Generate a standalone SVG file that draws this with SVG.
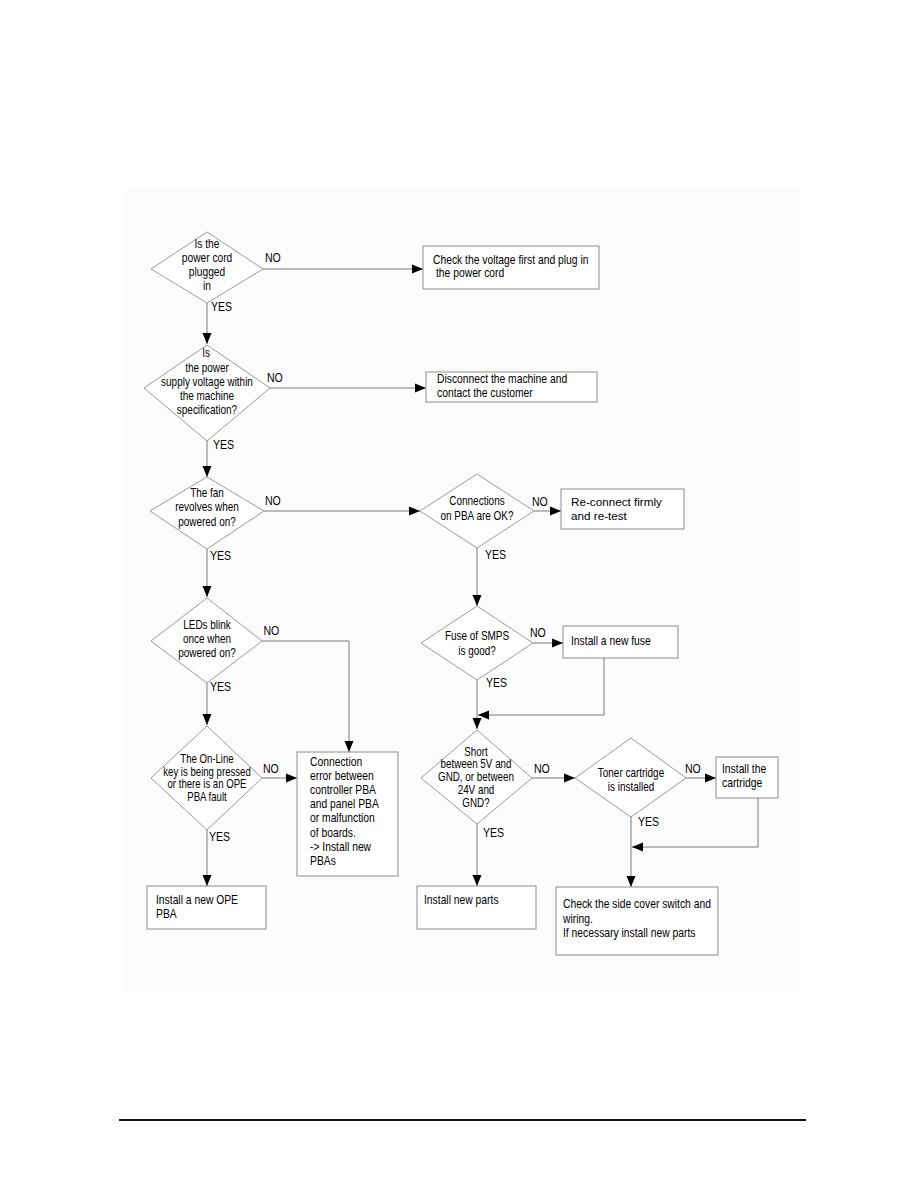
<svg xmlns="http://www.w3.org/2000/svg" width="918" height="1188" viewBox="0 0 918 1188">
<style>
text{font-family:"Liberation Sans",Arial,sans-serif;font-size:12px;fill:#000}
.d text{text-anchor:middle}
.reg{font-size:11.7px}
.d polygon{fill:#fff;stroke:#9a9a9a;stroke-width:1}
.b rect{fill:#fff;stroke:#8c8c8c;stroke-width:1}
#connectors path{fill:none;stroke:#7a7a7a;stroke-width:1;marker-end:url(#arr)}
</style>
<defs>
<marker id="arr" markerUnits="userSpaceOnUse" markerWidth="11" markerHeight="10" refX="11" refY="5" orient="auto">
<path d="M0,0.5 L11,5 L0,9.5 z" fill="#000"/>
</marker>
</defs>
<rect x="124" y="190" width="676" height="802" fill="#fcfcfc"/>

<g id="connectors">
<path d="M263,269 H423"/>
<path d="M207,303 V344"/>
<path d="M270,388 H426"/>
<path d="M207,441 V477"/>
<path d="M264,511 H420"/>
<path d="M534,511 H561"/>
<path d="M477,548 V606"/>
<path d="M207,549 V597"/>
<path d="M262,641 H349 V752"/>
<path d="M207,683 V725"/>
<path d="M533,643 H563"/>
<path d="M604,658 V715 H478"/>
<path d="M477,680 V729"/>
<path d="M262,778 H297"/>
<path d="M207,830 V886"/>
<path d="M532,778 H575"/>
<path d="M686,778 H716"/>
<path d="M758,798 V847 H632"/>
<path d="M631,817 V887"/>
<path d="M477,824 V886"/>
</g>

<g id="labels">
<text transform="translate(265,262) scale(0.88,1)">NO</text>
<text transform="translate(211,311) scale(0.88,1)">YES</text>
<text transform="translate(267,382) scale(0.88,1)">NO</text>
<text transform="translate(213,449) scale(0.88,1)">YES</text>
<text transform="translate(265,505) scale(0.88,1)">NO</text>
<text transform="translate(210,560) scale(0.88,1)">YES</text>
<text transform="translate(532,505.5) scale(0.88,1)">NO</text>
<text transform="translate(485,559) scale(0.88,1)">YES</text>
<text transform="translate(263.5,635) scale(0.88,1)">NO</text>
<text transform="translate(210,691) scale(0.88,1)">YES</text>
<text transform="translate(530,637) scale(0.88,1)">NO</text>
<text transform="translate(486,687) scale(0.88,1)">YES</text>
<text transform="translate(263,773) scale(0.88,1)">NO</text>
<text transform="translate(209,841) scale(0.88,1)">YES</text>
<text transform="translate(534,773) scale(0.88,1)">NO</text>
<text transform="translate(483,837) scale(0.88,1)">YES</text>
<text transform="translate(685,773) scale(0.88,1)">NO</text>
<text transform="translate(638,826) scale(0.88,1)">YES</text>
</g>

<g id="n1" class="d">
<polygon points="207,232 263,269 207,303 151,269"/>
<g transform="translate(207,0) scale(0.85,1)">
<text x="0" y="248">Is the</text>
<text x="0" y="262">power cord</text>
<text x="0" y="276">plugged</text>
<text x="0" y="290">in</text>
</g>
</g>
<g id="n2" class="b">
<rect x="423" y="246" width="176" height="43"/>
<g transform="translate(433,0) scale(0.86,1)">
<text x="0" y="264">Check the voltage first and plug in</text>
<text x="3.5" y="277.5">the power cord</text>
</g>
</g>

<g id="n3" class="d">
<polygon points="207,345 270,388 207,441 144,388"/>
<g transform="translate(207,0) scale(0.83,1)">
<text x="-1" y="357">Is</text>
<text x="0" y="372">the power</text>
<text x="0" y="386">supply voltage within</text>
<text x="0" y="400">the machine</text>
<text x="0" y="414">specification?</text>
</g>
</g>
<g id="n4" class="b">
<rect x="426" y="372" width="171" height="30"/>
<g transform="translate(437,0) scale(0.86,1)">
<text x="0" y="383.5">Disconnect the machine and</text>
<text x="0" y="397.5">contact the customer</text>
</g>
</g>

<g id="n5" class="d">
<polygon points="207,477 264,511 207,549 150,511"/>
<g transform="translate(207,0) scale(0.83,1)">
<text x="0" y="497">The fan</text>
<text x="0" y="511.5">revolves when</text>
<text x="0" y="526">powered on?</text>
</g>
</g>
<g id="n6" class="d">
<polygon points="477,474 534,511 477,548 420,511"/>
<g transform="translate(477,0) scale(0.83,1)">
<text x="0" y="505">Connections</text>
<text x="0" y="520">on PBA are OK?</text>
</g>
</g>
<g id="n7" class="b">
<rect x="561" y="489" width="123" height="40"/>
<text class="reg" x="571" y="505.5">Re-connect firmly</text>
<text class="reg" x="571" y="520">and re-test</text>
</g>

<g id="n8" class="d">
<polygon points="207,598 262,641 207,683 151,641"/>
<g transform="translate(207,0) scale(0.83,1)">
<text x="0" y="629">LEDs blink</text>
<text x="0" y="643.3">once when</text>
<text x="0" y="657.3">powered on?</text>
</g>
</g>
<g id="n9" class="d">
<polygon points="477,606 533,643 477,680 421,643"/>
<g transform="translate(477,0) scale(0.83,1)">
<text x="0" y="640">Fuse of SMPS</text>
<text x="0" y="655">is good?</text>
</g>
</g>
<g id="n10" class="b">
<rect x="563" y="626" width="115" height="32"/>
<g transform="translate(571,0) scale(0.86,1)">
<text x="0" y="645">Install a new fuse</text>
</g>
</g>

<g id="n11" class="d">
<polygon points="207,726 262,778 207,830 151,778"/>
<g transform="translate(207,0) scale(0.8,1)">
<text x="0" y="763">The On-Line</text>
<text x="0" y="775.7">key is being pressed</text>
<text x="0" y="788.4">or there is an OPE</text>
<text x="0" y="801.1">PBA fault</text>
</g>
</g>
<g id="n12" class="b">
<rect x="297" y="752" width="101" height="124"/>
<g transform="translate(310,0) scale(0.86,1)">
<text x="0" y="765.7">Connection</text>
<text x="0" y="779.9">error between</text>
<text x="0" y="794.1">controller PBA</text>
<text x="0" y="808.3">and panel PBA</text>
<text x="0" y="822.5">or malfunction</text>
<text x="0" y="836.7">of boards.</text>
<text x="0" y="850.9">-&gt; Install new</text>
<text x="0" y="865.1">PBAs</text>
</g>
</g>
<g id="n13" class="b">
<rect x="147" y="886" width="119" height="43"/>
<g transform="translate(156,0) scale(0.86,1)">
<text x="0" y="904.3">Install a new OPE</text>
<text x="0" y="917.7">PBA</text>
</g>
</g>

<g id="n14" class="d">
<polygon points="477,730 532,778 477,824 421,778"/>
<g transform="translate(476,0) scale(0.82,1)">
<text x="0" y="756">Short</text>
<text x="0" y="768.5">between 5V and</text>
<text x="0" y="781.5">GND, or between</text>
<text x="0" y="794">24V and</text>
<text x="0" y="807">GND?</text>
</g>
</g>
<g id="n15" class="d">
<polygon points="631,738 686,778 631,817 575,778"/>
<g transform="translate(631,0) scale(0.83,1)">
<text x="0" y="777">Toner cartridge</text>
<text x="0" y="791.5">is installed</text>
</g>
</g>
<g id="n16" class="b">
<rect x="716" y="757" width="62" height="41"/>
<g transform="translate(722,0) scale(0.86,1)">
<text x="0" y="772.7">Install the</text>
<text x="0" y="786.7">cartridge</text>
</g>
</g>
<g id="n17" class="b">
<rect x="417" y="886" width="119" height="43"/>
<g transform="translate(424,0) scale(0.86,1)">
<text x="0" y="904.3">Install new parts</text>
</g>
</g>
<g id="n18" class="b">
<rect x="556" y="887" width="162" height="68"/>
<g transform="translate(563,0) scale(0.86,1)">
<text x="0" y="908.3">Check the side cover switch and</text>
<text x="0" y="922.7">wiring.</text>
<text x="0" y="936.7">If necessary install new parts</text>
</g>
</g>

<line x1="119" y1="1120" x2="806" y2="1120" stroke="#111" stroke-width="2"/>
</svg>
